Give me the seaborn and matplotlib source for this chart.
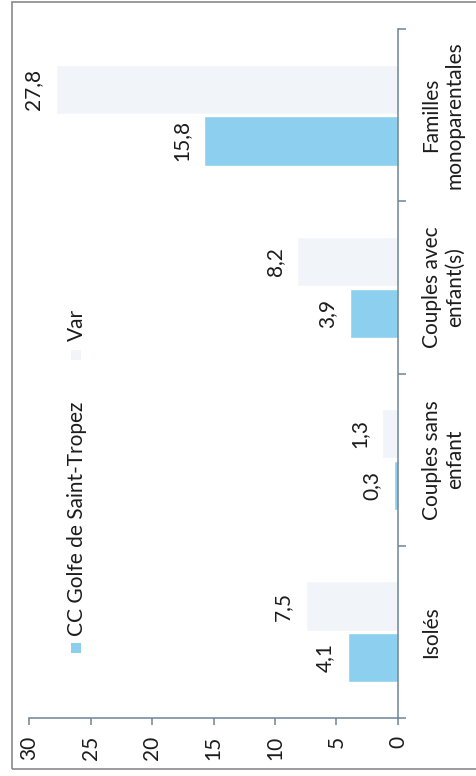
import matplotlib
matplotlib.use("Agg")
import matplotlib.pyplot as plt
from matplotlib.patches import Rectangle
import seaborn as sns
import pandas as pd

categories = ["Isolés", "Couples sans\nenfant", "Couples avec\nenfant(s)", "Familles\nmonoparentales"]
series = ["CC Golfe de Saint-Tropez", "Var"]
cc_values = [4.1, 0.3, 3.9, 15.8]
var_values = [7.5, 1.3, 8.2, 27.8]
value_ticks = [0, 5, 10, 15, 20, 25, 30]

colors = {"CC Golfe de Saint-Tropez": "#8DCFEE", "Var": "#F1F5F9"}
axis_color = "#6E8497"
text_color = "#1c1c1c"
FS = 15

df = pd.DataFrame({
    "cat": categories * 2,
    "serie": [series[0]] * len(categories) + [series[1]] * len(categories),
    "val": cc_values + var_values,
})

sns.set_style("white")
plt.rcParams["font.family"] = ["Lato", "DejaVu Sans"]

W, H = 477, 776
fig = plt.figure(figsize=(W / 100, H / 100), dpi=100)
ax = fig.add_axes([29 / W, 1 - 718 / H, (398 - 29) / W, (718 - 29) / H])

sns.barplot(data=df, y="cat", x="val", hue="serie", orient="h",
            order=categories, hue_order=series, palette=colors,
            width=0.6, gap=0.05, legend=False, ax=ax, errorbar=None,
            saturation=1)

ax.set_ylim(-0.5, len(categories) - 0.5)
ax.set_xlim(30, 0)
ax.set_xlabel("")
ax.set_ylabel("")

for s in ["top", "left"]:
    ax.spines[s].set_visible(False)
for s in ["right", "bottom"]:
    ax.spines[s].set_color(axis_color)
    ax.spines[s].set_linewidth(1.1)

ax.set_xticks(value_ticks)
ax.set_xticklabels([str(v) for v in value_ticks], rotation=90, fontsize=FS,
                   color=text_color)
ax.tick_params(axis="x", direction="out", length=5, width=1.1, color=axis_color,
               pad=8, bottom=True)

ax.yaxis.tick_right()
ax.set_yticks(range(len(categories)))
ax.set_yticklabels(categories, rotation=90, fontsize=FS, color=text_color,
                   va="center", ha="left", multialignment="center")
ax.tick_params(axis="y", which="major", length=0, pad=17, right=True, left=False)
ax.set_yticks([i - 0.5 for i in range(len(categories) + 1)], minor=True)
ax.tick_params(axis="y", which="minor", direction="out", length=6, width=1.1,
               color=axis_color, right=True, left=False)

# data labels
for cont, vals in zip(ax.containers, [cc_values, var_values]):
    for bar, v in zip(cont, vals):
        yc = bar.get_y() + bar.get_height() / 2
        ax.annotate(f"{v}".replace(".", ","), xy=(v, yc), xytext=(-9, 0),
                    textcoords="offset points", rotation=90, ha="right",
                    va="center", fontsize=FS, color=text_color)

# legend (rotated)
def px(x, y):
    return x / W, 1 - y / H

mx, my = px(71, 653)
fig.add_artist(Rectangle((mx, my), 10 / W, 10 / H, transform=fig.transFigure,
                         facecolor=colors[series[0]], edgecolor="none"))
tx, ty = px(77, 636)
fig.text(tx, ty, series[0], rotation=90, ha="center", va="bottom", fontsize=FS,
         color=text_color)
mx, my = px(71, 360)
fig.add_artist(Rectangle((mx, my), 10 / W, 10 / H, transform=fig.transFigure,
                         facecolor=colors[series[1]], edgecolor="none"))
tx, ty = px(77, 341)
fig.text(tx, ty, series[1], rotation=90, ha="center", va="bottom", fontsize=FS,
         color=text_color)

# outer border
bx, by = px(12, 769)
fig.add_artist(Rectangle((bx, by), (480 - 12) / W, (769 - 2) / H,
                         transform=fig.transFigure, facecolor="none",
                         edgecolor="#8a8a8a", linewidth=1.2))

fig.savefig("out.png", dpi=100)
